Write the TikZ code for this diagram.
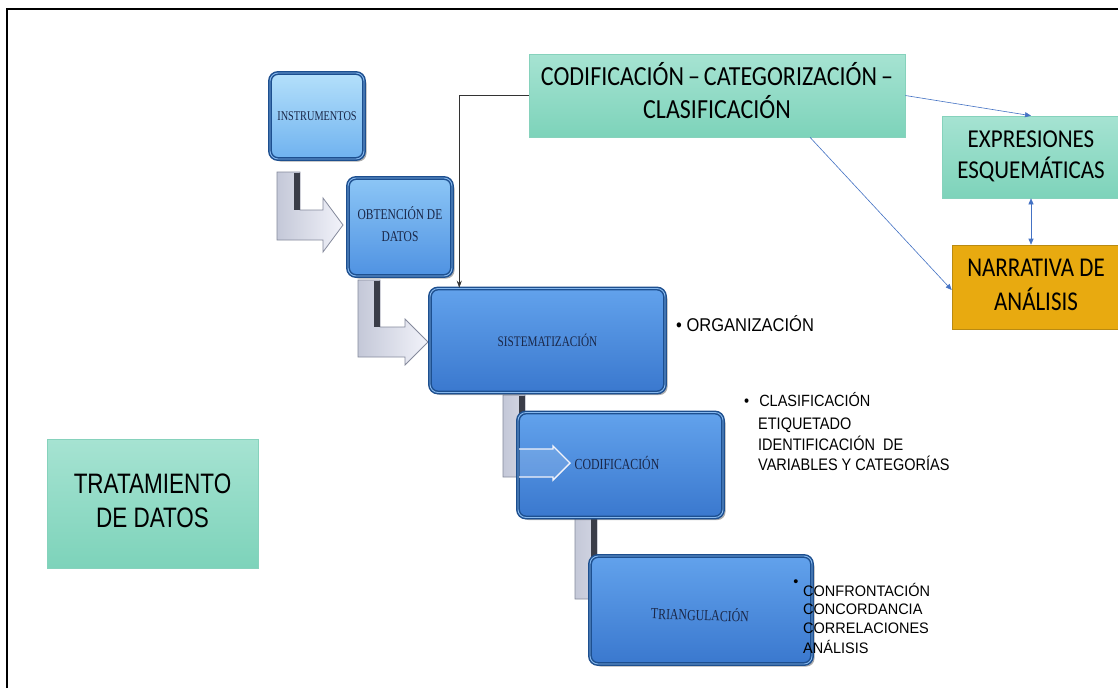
\documentclass[tikz,border=0pt]{standalone}
\usepackage{fontspec}
\setmainfont{Liberation Serif}
\newfontfamily\arialf{Liberation Sans}
\newfontfamily\calib{Carlito}
\usetikzlibrary{shadows,arrows.meta}
\definecolor{bdark}{HTML}{1D4F8F}
\definecolor{blight}{HTML}{86B8EE}
\definecolor{b1top}{HTML}{B4E0FB}
\definecolor{b1bot}{HTML}{6FB2EF}
\definecolor{b2top}{HTML}{8CC6F6}
\definecolor{b2bot}{HTML}{4F92E2}
\definecolor{b3top}{HTML}{62A2EC}
\definecolor{b3bot}{HTML}{3A78CE}
\definecolor{btext}{HTML}{1A2748}
\definecolor{gtop}{HTML}{A6E3D2}
\definecolor{gbot}{HTML}{7DD3BA}
\definecolor{gline}{HTML}{86D2BC}
\definecolor{gold}{HTML}{E8AA10}
\definecolor{goldline}{HTML}{B98A12}
\definecolor{lnblue}{HTML}{4472C4}
\definecolor{barL}{HTML}{C4C8D8}
\definecolor{barR}{HTML}{F2F3FA}
\definecolor{barD}{HTML}{3A3D48}
\definecolor{barE}{HTML}{858A9C}
\newcommand\Larrow[8]{%
  \draw[draw=barE, line width=0.8pt, left color=barL, right color=barR]
    (#1,#3) -- ({#1+#2},#3) -- ({#1+#2},{#4-#5/2}) -- (#6,{#4-#5/2}) -- (#6,{#4-#7})
    -- (#8,#4) -- (#6,{#4+#7}) -- (#6,{#4+#5/2}) -- (#1,{#4+#5/2}) -- cycle;
  \fill[barD] ({#1+#2-6},{#3+1}) rectangle ({#1+#2-0.5},{#4-#5/2});
}
\newcommand\Hollow[7]{%
  \draw[draw=barR, line width=1.4pt, fill=white, fill opacity=0.15]
    (#1,{#2-#3/2}) -- (#4,{#2-#3/2}) -- (#4,{#2-#5}) -- (#6,#2) -- (#4,{#2+#5}) -- (#4,{#2+#3/2}) -- (#1,{#2+#3/2});
}
\begin{document}
\begin{tikzpicture}[x=1pt,y=-1pt,
  bluebox/.style={rounded corners=8pt, draw=bdark, double=blight, double distance=0.9pt,
    line width=1.5pt, inner sep=0pt, align=center, text=btext, font=\fontsize{11.5}{14}\selectfont,
    drop shadow={shadow xshift=2.5pt, shadow yshift=-2.5pt, fill=black!70, opacity=0.45}},
  greenbox/.style={draw=gline, line width=0.6pt, top color=gtop, bottom color=gbot, inner sep=0pt, align=center},
  goldbox/.style={draw=goldline, line width=0.6pt, fill=gold, inner sep=0pt, align=center},
  bluearrow/.style={draw=lnblue, line width=0.6pt, -{Triangle[length=6pt,width=5pt]}},
  sidetext/.style={inner sep=0pt, anchor=west, align=left, font=\arialf\fontsize{14.5}{17}\selectfont},
  tiltline/.style={inner sep=0pt, anchor=west, font=\arialf\fontsize{14.5}{17}\selectfont}
]
\useasboundingbox (0,0) rectangle (1118,688);
\clip (0,0) rectangle (1118,688);
\fill[white] (0,0) rectangle (1118,688);
\draw[black, line width=1.4pt] (7,688) -- (7,9) -- (1120,9);

% bent block arrows (behind boxes)
\Larrow{277}{23}{172}{225}{30}{323}{27}{343}
\Larrow{358}{22}{280}{342}{30}{405}{23}{428}
\Larrow{503}{22}{395}{463}{28}{553}{17}{570}
\Larrow{575}{22}{517}{587}{24}{630}{17}{646}

% blue boxes
\node[bluebox, top color=b1top, bottom color=b1bot, minimum width=94pt, minimum height=86pt]
  (ins) at (317,116) {\scalebox{1}[1.3]{\fontsize{10.3}{12}\selectfont INSTRUMENTOS}};
\node[bluebox, top color=b2top, bottom color=b2bot, minimum width=104pt, minimum height=98pt]
  (obt) at (400,227) {\scalebox{1}[1.3]{\begin{tabular}{@{}c@{}}OBTENCIÓN DE\\[3pt]DATOS\end{tabular}}};
\node[bluebox, top color=b3top, bottom color=b3bot, minimum width=235pt, minimum height=104pt]
  (sis) at (547.5,340.5) {\scalebox{1}[1.3]{\fontsize{11.2}{13}\selectfont SISTEMATIZACIÓN}};
\node[bluebox, top color=b3top, bottom color=b3bot, minimum width=205pt, minimum height=105pt]
  (cod) at (620.5,465) {};
\node[bluebox, top color=b3top, bottom color=b3bot, minimum width=222pt, minimum height=108pt]
  (tri) at (701,610) {};
\node[inner sep=0pt, text=btext] (codt) at (617,463) {\scalebox{1}[1.3]{\fontsize{11.8}{14}\selectfont CODIFICACIÓN}};
\node[inner sep=0pt, rotate=-2, text=btext] (trit) at (700,614) {\scalebox{1}[1.3]{\fontsize{11.8}{14}\selectfont TRIANGULACIÓN}};

% hollow arrow heads over the boxes
\Hollow{519}{463}{28}{553}{17}{570}
\Hollow{591}{587}{24}{630}{17}{646}

% green / gold boxes
\node[greenbox, minimum width=376pt, minimum height=83pt] (ccc) at (717,95.5)
  {\calib\scalebox{1}[1.15]{\fontsize{24}{28}\selectfont\begin{tabular}{@{}c@{}}CODIFICACIÓN\,–\,CATEGORIZACIÓN\,–\\CLASIFICACIÓN\end{tabular}}};
\node[greenbox, minimum width=178pt, minimum height=82pt] (exp) at (1031,157)
  {\calib\scalebox{1}[1.12]{\fontsize{23}{27.5}\selectfont\begin{tabular}{@{}c@{}}EXPRESIONES\\ESQUEMÁTICAS\end{tabular}}};
\node[goldbox, minimum width=168pt, minimum height=84pt] (nar) at (1036,287)
  {\calib\scalebox{1}[1.18]{\fontsize{23}{29}\selectfont\begin{tabular}{@{}c@{}}NARRATIVA DE\\ANÁLISIS\end{tabular}}};
\node[greenbox, minimum width=211pt, minimum height=129pt] (tdd) at (152.5,503.5)
  {\arialf\scalebox{1}[1.25]{\fontsize{22.5}{27}\selectfont\begin{tabular}{@{}c@{}}TRATAMIENTO\\DE DATOS\end{tabular}}};

% connectors
\draw[line width=0.6pt, draw=black!80, -{Stealth[length=7pt,width=5pt]}] (ccc.west) -| ([xshift=30pt]sis.north west);
\draw[bluearrow] (ccc.east) -- (exp.north);
\draw[bluearrow] ([xshift=93pt]ccc.south) -- ([yshift=-3pt]nar.west);
\draw[bluearrow, {Triangle[length=6pt,width=5pt]}-{Triangle[length=6pt,width=5pt]}] (exp.south) -- (exp.south |- nar.north);

% side texts
\node[sidetext, font=\arialf\fontsize{16.5}{19}\selectfont] (org) at (676,324) {\scalebox{1}[1.12]{\textbullet\ ORGANIZACIÓN}};
\node[sidetext] (cla) at (744,400) {\scalebox{1}[1.12]{\textbullet\hspace{10pt}CLASIFICACIÓN}};
\node[sidetext, anchor=north west] (eti) at (758,416) {\scalebox{1}[1.15]{\begin{tabular}{@{}l@{}}ETIQUETADO\\IDENTIFICACIÓN\ \ DE\\VARIABLES Y CATEGORÍAS\end{tabular}}};
\node[inner sep=0pt, font=\arialf\fontsize{14.5}{17}\selectfont] (bul) at (796,583) {\textbullet};
\node[tiltline] (l1) at (803,590) {\scalebox{1}[1.05]{CONFRONTACIÓN}};
\node[tiltline] (l2) at (803,609) {\scalebox{1}[1.05]{CONCORDANCIA}};
\node[tiltline] (l3) at (803,628) {\scalebox{1}[1.05]{CORRELACIONES}};
\node[tiltline] (l4) at (803,647) {\scalebox{1}[1.05]{ANÁLISIS}};
\end{tikzpicture}
\end{document}
